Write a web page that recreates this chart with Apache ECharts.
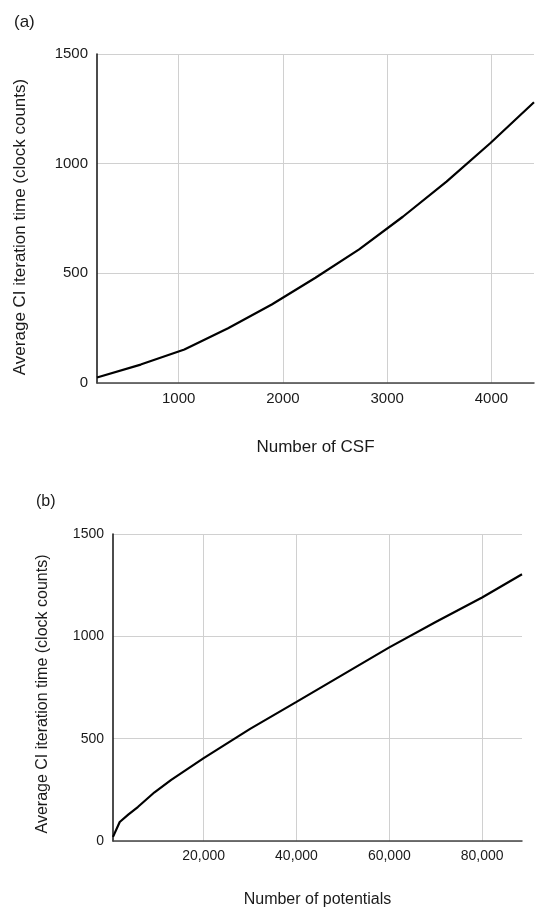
<!DOCTYPE html>
<html>
<head>
<meta charset="utf-8">
<script src="https://cdn.jsdelivr.net/npm/echarts@6/dist/echarts.min.js"></script>
<style>
  html, body { margin: 0; padding: 0; background: #fff; }
  #chart { width: 550px; height: 915px; }
</style>
</head>
<body>
<div id="chart"></div>
<script>
// (a) time vs number of CSF
const csfCount = [217, 636, 1055, 1474, 1893, 2312, 2731, 3150, 3569, 3988, 4408];
const csfTime = [25, 84, 153, 250, 358, 480, 609, 758, 918, 1093, 1280];

// (b) time vs number of potentials
const potCount = [453, 1900, 3800, 5800, 9400, 13000, 20000, 30000, 40000, 50000, 60000, 70000, 80000, 88600];
const potTime = [20, 93, 130, 166, 238, 299, 405, 548, 680, 813, 946, 1070, 1190, 1303];

const yName = 'Average CI iteration time (clock counts)';
const font = 'Liberation Sans, Arial, sans-serif';

function pairs(xs, ys) {
    return xs.map((x, i) => [x, ys[i]]);
}

function xAxisFor(grid, min, max, name, size, gap, fmt) {
    return {
        type: 'value',
        gridIndex: grid,
        min: min,
        max: max,
        name: name,
        nameLocation: 'middle',
        nameGap: gap,
        nameTextStyle: { color: '#1a1a1a', fontSize: size + 2, fontFamily: font },
        axisLine: { show: true, lineStyle: { color: '#444', width: 1.5 } },
        axisTick: { show: false },
        axisLabel: {
            color: '#1a1a1a',
            fontSize: size,
            fontFamily: font,
            margin: 8,
            showMinLabel: false,
            showMaxLabel: false,
            formatter: fmt,
        },
        splitLine: {
            show: true,
            showMinLine: false,
            showMaxLine: false,
            lineStyle: { color: '#d0d0d0', width: 1 },
        },
    };
}

function yAxisFor(grid, size, gap, shift) {
    return {
        type: 'value',
        gridIndex: grid,
        min: 0,
        max: 1500,
        interval: 500,
        name: yName,
        nameLocation: 'middle',
        nameGap: gap,
        nameTextStyle: { color: '#1a1a1a', fontSize: size + 2, fontFamily: font, padding: [0, shift, 0, 0] },
        axisLine: { show: true, lineStyle: { color: '#111', width: 1.5 } },
        axisTick: { show: false },
        axisLabel: {
            color: '#1a1a1a',
            fontSize: size,
            fontFamily: font,
            margin: 9,
            formatter: v => String(v),
        },
        splitLine: { show: true, lineStyle: { color: '#d0d0d0', width: 1 } },
    };
}

const lineStyle = { color: '#000', width: 2.2 };

const option = {
    animation: false,
    title: [
        { text: '(a)', left: 9, top: 9, textStyle: { color: '#1a1a1a', fontSize: 17, fontWeight: 'normal', fontFamily: font } },
        { text: '(b)', left: 31, top: 489, textStyle: { color: '#1a1a1a', fontSize: 16, fontWeight: 'normal', fontFamily: font } },
    ],
    grid: [
        { left: 97, top: 54, width: 437, height: 329 },
        { left: 113, top: 534, width: 409, height: 307 },
    ],
    xAxis: [
        xAxisFor(0, 217, 4408, 'Number of CSF', 15, 56, v => String(v)),
        xAxisFor(1, 453, 88600, 'Number of potentials', 14, 51, v => v.toLocaleString('en-US')),
    ],
    yAxis: [
        yAxisFor(0, 15, 68, 17),
        yAxisFor(1, 14, 62, 13),
    ],
    series: [
        {
            type: 'line',
            xAxisIndex: 0,
            yAxisIndex: 0,
            data: pairs(csfCount, csfTime),
            showSymbol: false,
            lineStyle: lineStyle,
        },
        {
            type: 'line',
            xAxisIndex: 1,
            yAxisIndex: 1,
            data: pairs(potCount, potTime),
            showSymbol: false,
            lineStyle: lineStyle,
        },
    ],
};

const chart = echarts.init(document.getElementById('chart'));
chart.setOption(option);
</script>
</body>
</html>
